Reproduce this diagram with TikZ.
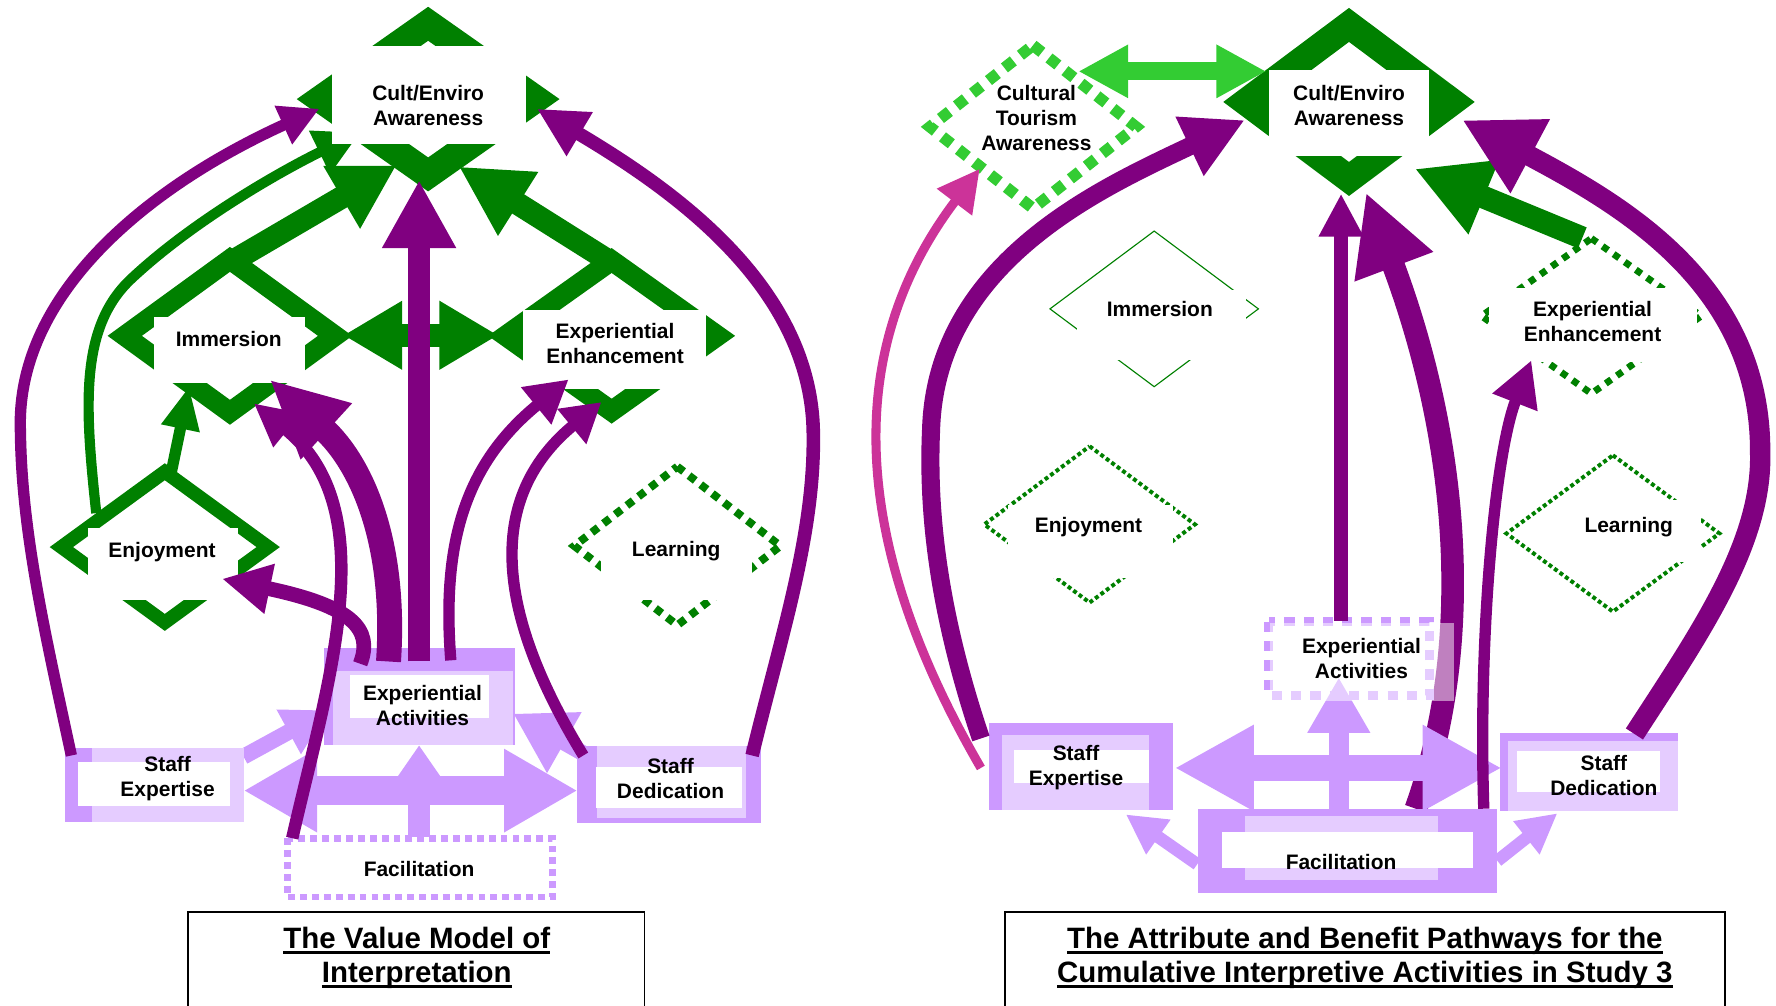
\documentclass[tikz,border=0pt]{standalone}
\usepackage{fontspec}
\setmainfont{Liberation Sans}
\usetikzlibrary{arrows.meta}
\definecolor{dgreen}{HTML}{008000}
\definecolor{lgreen}{HTML}{33CC33}
\definecolor{purp}{HTML}{800080}
\definecolor{lav}{HTML}{CC99FF}
\definecolor{lavl}{HTML}{E5CCFF}
\definecolor{pinkm}{HTML}{CC3399}
% thick diamond ring: centre x, centre y, half width, half height, apex thickness, colour
\newcommand\gring[6]{\fill[#6,even odd rule]
  (#1,{#2-#4}) -- ({#1+#3},#2) -- (#1,{#2+#4}) -- ({#1-#3},#2) -- cycle
  (#1,{#2-#4+#5}) -- ({#1+#3*(#4-#5)/#4},#2) -- (#1,{#2+#4-#5}) -- ({#1-#3*(#4-#5)/#4},#2) -- cycle;}
% diamond outline path
\newcommand\gdiam[4]{(#1,{#2-#4}) -- ({#1+#3},#2) -- (#1,{#2+#4}) -- ({#1-#3},#2) -- cycle}
% layered attribute box: outer, inner band, white field
\newcommand\abox[3]{\fill[lav] #1; \fill[lavl] #2; \fill[white] #3;}
% thick underline for the captions
\newcommand\tline[1]{\setbox0=\hbox{#1}\rlap{\rule[-4.5pt]{\wd0}{2.4pt}}\box0}
\tikzset{
  ah/.style 2 args={-{Triangle[length=#1pt,width=#2pt]}},
  dah/.style 2 args={{Triangle[length=#1pt,width=#2pt]}-{Triangle[length=#1pt,width=#2pt]}},
  lbl/.style={font=\fontsize{18.5}{22}\selectfont\bfseries, align=center, inner sep=0pt},
  ttl/.style={font=\fontsize{26}{30}\selectfont\bfseries, align=center, inner sep=0pt},
}
\begin{document}
\begin{tikzpicture}[x=1pt,y=-1pt]
\useasboundingbox (0,0) rectangle (1568,888);

% ---------- benefit diamonds ----------
\gring{378}{87.5}{116}{81.5}{30}{dgreen}
\gring{203}{296.5}{108}{78.5}{22}{dgreen}
\gring{540}{296.5}{109}{77.5}{22}{dgreen}
\gring{145.5}{483}{101.6}{74}{15}{dgreen}
\gring{1191}{90}{111}{83}{30}{dgreen}
\draw[dgreen, line width=7pt, dash pattern=on 7pt off 6pt] \gdiam{598}{482}{91}{70};
\draw[lgreen, line width=10pt, dash pattern=on 10pt off 8pt] \gdiam{912}{112}{91}{72};
\draw[dgreen, line width=1pt] \gdiam{1019}{272.7}{92}{68.7};
\draw[dgreen, line width=3.5pt, dash pattern=on 3.5pt off 2.5pt] \gdiam{962}{463}{93}{69};
\draw[dgreen, line width=3.5pt, dash pattern=on 3.5pt off 2.5pt] \gdiam{1424}{471}{94}{69};
\draw[dgreen, line width=6pt, dash pattern=on 6pt off 6pt] \gdiam{1405}{279}{97}{68.5};

% enjoyment to awareness, its head tucked under the awareness label field
\coordinate (enLu) at (85,453);   \coordinate (cuLb) at (318,117);
\draw[dgreen, line width=9pt, ah={40}{40}] (enLu) .. controls (75,360) and (70,290) .. (115,247) .. controls (170,195) and (250,150) .. (cuLb);

% white label fields over the diamonds
\fill[white] (293,41) rectangle (464,127);
\fill[white] (136,280) rectangle (269,338);
\fill[white] (462,274) rectangle (623,343);
\fill[white] (78,466) rectangle (210,530);
\fill[white] (531,470) rectangle (664,530);
\fill[white] (1120,62) rectangle (1262,138);
\fill[white] (951,256) rectangle (1100,318);
\fill[white] (890,446) rectangle (1036,510);
\fill[white] (1380,441) rectangle (1502,496);
\fill[white] (1315,254) rectangle (1498,320);

% ---------- end points of the pathways ----------
\coordinate (q4s) at (1250,714);  \coordinate (q4t) at (1206,170);
\coordinate (seLr) at (215,698);  \coordinate (sdLl) at (510,698);
\coordinate (faLt) at (370,739);  \coordinate (eaLb) at (370,658);
\coordinate (seLc) at (215,668);  \coordinate (eaLl) at (290,627);
\coordinate (sdLc) at (520,668);  \coordinate (eaLr) at (453,630);
\coordinate (seRr) at (1037,678); \coordinate (sdRl) at (1326,678);
\coordinate (faRt) at (1182,714); \coordinate (eaRb) at (1182,598);
\coordinate (faRl) at (1057,763); \coordinate (seRb) at (994,719);
\coordinate (faRr) at (1322,760); \coordinate (sdRb) at (1375,718);

% pathway passing behind the attribute boxes
\draw[purp, line width=20pt, ah={70}{69}] (q4s) .. controls (1305,560) and (1285,380) .. (q4t);

% ---------- attribute links ----------
\draw[lav, line width=25pt, dah={65}{69}] (seLr) -- (sdLl);
\draw[lav, line width=20pt, ah={30}{39}] (faLt) -- (eaLb);
\draw[lav, line width=14pt, ah={40}{42}] (seLc) -- (eaLl);
\draw[lav, line width=14pt, ah={52}{58}] (sdLc) -- (eaLr);
\draw[lav, line width=23.6pt, dah={70}{71}] (seRr) -- (sdRl);
\draw[lav, line width=17.7pt, ah={49}{52}] (faRt) -- (eaRb);
\draw[lav, line width=11pt, ah={35}{35}] (faRl) -- (seRb);
\draw[lav, line width=11pt, ah={35}{35}] (faRr) -- (sdRb);

% ---------- attribute boxes ----------
\abox{(286,572) rectangle (455,658)}{(294,592) rectangle (453,658)}{(309,596) rectangle (432,634)}
\abox{(57,660) rectangle (215,726)}{(81,660) rectangle (215,726)}{(69,673) rectangle (203,712)}
\abox{(509,659) rectangle (672,727)}{(527,659) rectangle (659,722)}{(526,677) rectangle (655,713)}
\draw[lav, line width=6pt, dash pattern=on 6pt off 4.5pt] (254,740) rectangle (488,792);
\abox{(873,638.6) rectangle (1036,715)}{(885,649) rectangle (1014,715)}{(895,662) rectangle (1014,691.5)}
\abox{(1324,647) rectangle (1481.7,716)}{(1331.8,654.6) rectangle (1481.7,716)}{(1339.3,663.4) rectangle (1465.5,699.4)}
\abox{(1058,714.5) rectangle (1321.5,788)}{(1099,720.4) rectangle (1270,776.6)}{(1078.6,734.8) rectangle (1300.7,766.6)}
\draw[lav, line width=8pt, dash pattern=on 9pt off 8pt] (1120,549) rectangle (1262,614);
\fill[white, opacity=0.5] (1121,550) rectangle (1284,619);

% ---------- benefit links ----------
\coordinate (imLt) at (203,232);  \coordinate (cuLl) at (350,146);
\coordinate (eeLt) at (540,232);  \coordinate (cuLr) at (405,147);
\coordinate (enLt) at (151,418);  \coordinate (imLb) at (167,341);
\coordinate (imLr) at (303,296);  \coordinate (eeLl) at (440,296);
\coordinate (eeRt) at (1397,210); \coordinate (cuRr) at (1249,149);
\coordinate (ctRr) at (952,63);   \coordinate (cuRl) at (1118,63);
\draw[dgreen, line width=20pt, ah={56}{60}] (imLt) -- (cuLl);
\draw[dgreen, line width=20pt, ah={62}{62}] (eeLt) -- (cuLr);
\draw[dgreen, line width=10pt, ah={38}{32}] (enLt) -- (imLb);
\draw[dgreen, line width=20pt, dah={52}{57}] (imLr) -- (eeLl);
\draw[dgreen, line width=20pt, ah={66}{66}] (eeRt) -- (cuRr);
\draw[lgreen, line width=16pt, dah={44}{44}] (ctRr) -- (cuRl);

% ---------- attribute-to-benefit pathways ----------
\coordinate (p1s) at (63,667);   \coordinate (p1t) at (282,96);
\coordinate (p2s) at (664,667);  \coordinate (p2t) at (474,96);
\coordinate (p3s) at (370,584);  \coordinate (p3t) at (370,159);
\coordinate (p4s) at (343,584);  \coordinate (p4t) at (238,335);
\coordinate (p5s) at (258,740);  \coordinate (p5t) at (224,356);
\coordinate (p6s) at (318,586);  \coordinate (p6t) at (196,511);
\coordinate (p7s) at (398,583);  \coordinate (p7t) at (502,335);
\coordinate (p8s) at (515,667);  \coordinate (p8t) at (531,355);
\draw[purp, line width=10pt, ah={35}{35}] (p1s) .. controls (40,560) and (19,470) .. (18,380) .. controls (14,260) and (130,165) .. (p1t);
\draw[purp, line width=12pt, ah={44}{42}] (p2s) .. controls (690,560) and (720,470) .. (718,380) .. controls (715,250) and (590,165) .. (p2t);
\draw[purp, line width=20pt, ah={60}{61}] (p3s) -- (p3t);
\draw[purp, line width=22pt, ah={68}{62}] (p4s) .. controls (350,480) and (320,410) .. (p4t);
\draw[purp, line width=11pt, ah={38}{36}] (p5s) .. controls (290,600) and (340,450) .. (p5t);
\draw[purp, line width=13pt, ah={43}{42}] (p6s) .. controls (330,555) and (310,535) .. (p6t);
\draw[purp, line width=10pt, ah={37}{40}] (p7s) .. controls (390,480) and (410,410) .. (p7t);
\draw[purp, line width=10pt, ah={34}{38}] (p8s) .. controls (425,520) and (440,430) .. (p8t);

\coordinate (q1s) at (866,652);  \coordinate (q1t) at (1099,106);
\coordinate (q2s) at (1443,648); \coordinate (q2t) at (1291,106);
\coordinate (q3s) at (1184,548); \coordinate (q3t) at (1184,171);
\coordinate (q5s) at (1310,714); \coordinate (q5t) at (1352,318);
\coordinate (m1s) at (866,678);  \coordinate (m1t) at (865,149);
\draw[purp, line width=16pt, ah={54}{54}] (q1s) .. controls (835,560) and (818,470) .. (822,380) .. controls (826,230) and (975,165) .. (q1t);
\draw[purp, line width=18pt, ah={68}{69}] (q2s) .. controls (1500,560) and (1556,480) .. (1554,400) .. controls (1555,250) and (1430,180) .. (q2t);
\draw[purp, line width=12pt, ah={38}{37}] (q3s) -- (q3t);
\draw[purp, line width=10pt, ah={40}{40}] (q5s) .. controls (1305,560) and (1320,400) .. (q5t);
\draw[pinkm, line width=8pt, ah={37}{37}] (m1s) .. controls (780,530) and (720,340) .. (m1t);

% ---------- labels ----------
\node[lbl] (cuL) at (378,93) {Cult/Enviro\\Awareness};
\node[lbl] (imL) at (202,299) {Immersion};
\node[lbl] (eeL) at (543,303) {Experiential\\Enhancement};
\node[lbl] (enL) at (143,487) {Enjoyment};
\node[lbl] (leL) at (597,487) {Learning};
\node[lbl] (eaL) at (373,623) {Experiential\\Activities};
\node[lbl] (seL) at (148,687) {Staff\\Expertise};
\node[lbl] (sdL) at (592,687) {Staff\\Dedication};
\node[lbl] (faL) at (370,767) {Facilitation};

\node[lbl] (ctR) at (915,104) {Cultural\\Tourism\\Awareness};
\node[lbl] (cuR) at (1191,93) {Cult/Enviro\\Awareness};
\node[lbl] (imR) at (1024,273) {Immersion};
\node[lbl] (eeR) at (1406,284) {Experiential\\Enhancement};
\node[lbl] (enR) at (961,465) {Enjoyment};
\node[lbl] (leR) at (1438,465) {Learning};
\node[lbl] (eaR) at (1202,581) {Experiential\\Activities};
\node[lbl] (seR) at (950,678) {Staff\\Expertise};
\node[lbl] (sdR) at (1416,685) {Staff\\Dedication};
\node[lbl] (faR) at (1184,761) {Facilitation};

% ---------- captions ----------
\draw[black, line width=1.5pt] (166,805) rectangle (569,895);
\draw[black, line width=1.5pt] (887,805) rectangle (1523,895);
\node[ttl] (capL) at (368,846) {\tline{The Value Model of}\\\tline{Interpretation}};
\node[ttl] (capR) at (1205,846) {\tline{The Attribute and Benefit Pathways for the}\\\tline{Cumulative Interpretive Activities in Study 3}};
\end{tikzpicture}
\end{document}
